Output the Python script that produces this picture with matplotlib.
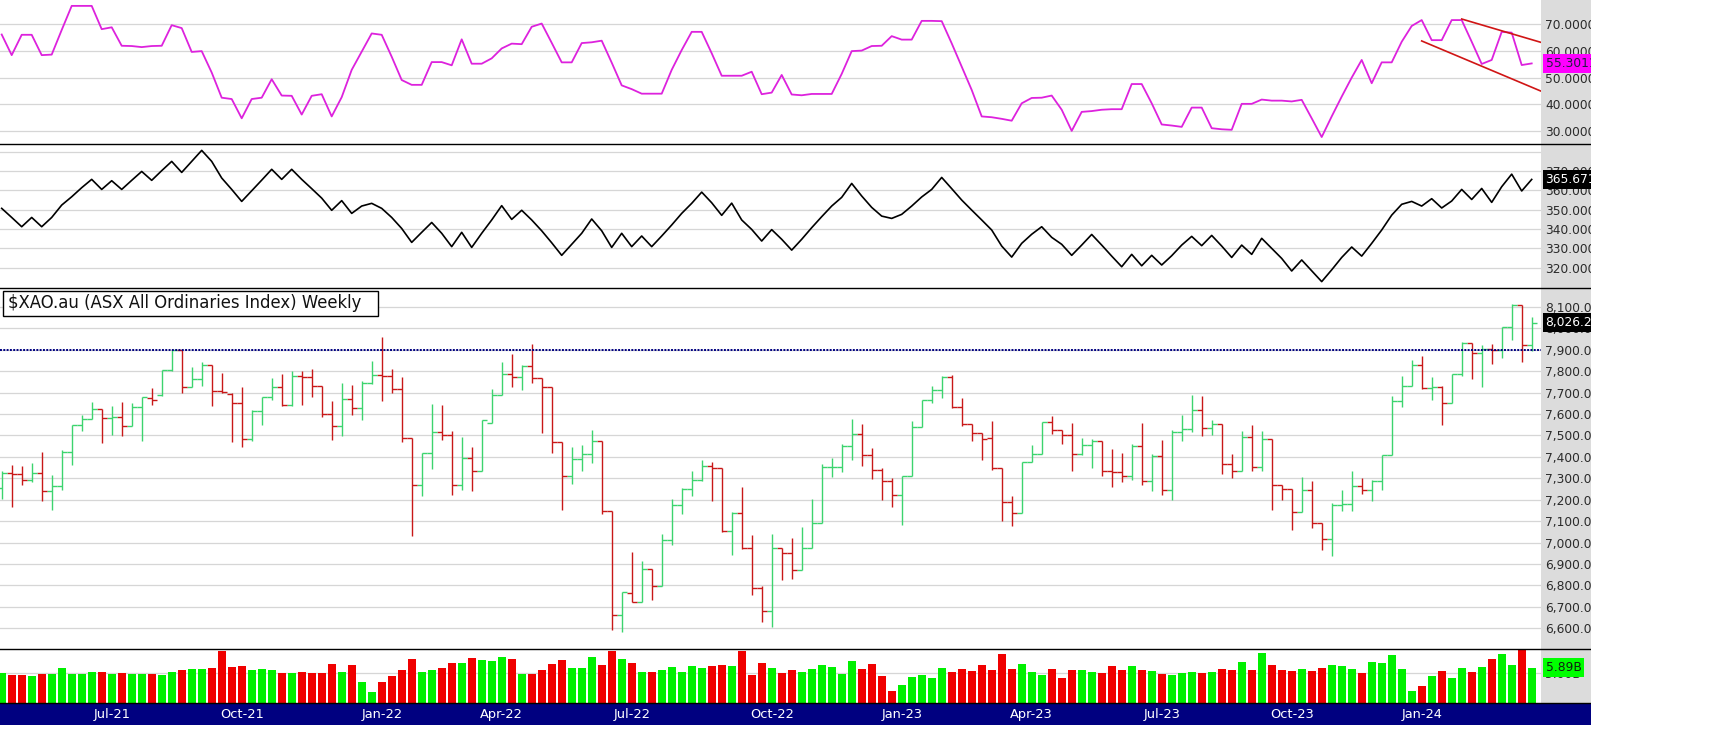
import matplotlib
matplotlib.use("Agg")
import matplotlib.pyplot as plt
import matplotlib.transforms as mtransforms
from matplotlib.patches import Rectangle
from matplotlib.lines import Line2D
import numpy as np

plt.rcParams['font.family'] = ['DejaVu Sans']

# ---------------- data ----------------
title_text = "$XAO.au (ASX All Ordinaries Index) Weekly"

date_tick_pos = [11, 24, 38, 50, 63, 77, 90, 103, 116, 129, 142]
date_tick_labels = ["Jul-21", "Oct-21", "Jan-22", "Apr-22", "Jul-22", "Oct-22",
                    "Jan-23", "Apr-23", "Jul-23", "Oct-23", "Jan-24"]

opens = [7255, 7325, 7320, 7290, 7325, 7242, 7262, 7423, 7547, 7577,
         7623, 7581, 7584, 7545, 7633, 7674, 7687, 7804, 7900, 7724,
         7765, 7827, 7706, 7693, 7651, 7485, 7615, 7678, 7724, 7640,
         7777, 7772, 7729, 7600, 7542, 7670, 7628, 7743, 7782, 7776,
         7716, 7488, 7267, 7418, 7514, 7502, 7270, 7393, 7335, 7558,
         7688, 7786, 7771, 7822, 7768, 7724, 7468, 7309, 7390, 7413,
         7472, 7146, 6660, 6765, 6721, 6877, 6796, 7010, 7174, 7250,
         7290, 7356, 7348, 7056, 7136, 6975, 6788, 6679, 6975, 6950,
         6870, 6975, 7090, 7353, 7354, 7449, 7507, 7409, 7337, 7287,
         7220, 7309, 7539, 7664, 7710, 7774, 7631, 7553, 7510, 7489,
         7346, 7188, 7136, 7374, 7413, 7563, 7524, 7502, 7413, 7455,
         7475, 7332, 7330, 7312, 7449, 7286, 7402, 7245, 7514, 7528,
         7617, 7533, 7552, 7367, 7332, 7493, 7354, 7482, 7267, 7250,
         7141, 7245, 7090, 7017, 7175, 7178, 7262, 7245, 7289, 7407,
         7660, 7729, 7828, 7720, 7727, 7651, 7785, 7931, 7883, 7905,
         7898, 8004, 8110, 7923]

highs = [7335, 7360, 7356, 7371, 7423, 7314, 7430, 7547, 7597, 7654,
         7623, 7636, 7656, 7651, 7679, 7721, 7805, 7900, 7900, 7818,
         7842, 7830, 7790, 7696, 7724, 7617, 7681, 7768, 7786, 7799,
         7802, 7810, 7729, 7659, 7743, 7734, 7755, 7849, 7958, 7810,
         7771, 7488, 7418, 7647, 7640, 7519, 7493, 7444, 7570, 7716,
         7842, 7880, 7827, 7926, 7768, 7724, 7468, 7444, 7454, 7524,
         7472, 7146, 6769, 6956, 6912, 6877, 7040, 7203, 7255, 7335,
         7385, 7374, 7348, 7141, 7259, 7034, 6799, 7040, 6975, 7021,
         7073, 7203, 7367, 7395, 7461, 7577, 7553, 7441, 7348, 7301,
         7312, 7566, 7665, 7729, 7776, 7780, 7674, 7553, 7510, 7567,
         7346, 7217, 7376, 7457, 7563, 7591, 7524, 7558, 7486, 7483,
         7475, 7437, 7418, 7461, 7558, 7413, 7480, 7524, 7597, 7687,
         7682, 7573, 7552, 7413, 7522, 7549, 7519, 7482, 7270, 7250,
         7304, 7289, 7090, 7185, 7245, 7332, 7301, 7293, 7410, 7682,
         7776, 7853, 7869, 7772, 7732, 7786, 7934, 7931, 7923, 7928,
         8004, 8113, 8110, 8051]

lows = [7205, 7164, 7267, 7281, 7192, 7153, 7244, 7363, 7519, 7577,
        7465, 7503, 7499, 7542, 7475, 7640, 7685, 7802, 7699, 7724,
        7732, 7636, 7698, 7471, 7444, 7472, 7547, 7664, 7636, 7639,
        7643, 7678, 7584, 7480, 7496, 7594, 7570, 7740, 7659, 7696,
        7468, 7029, 7216, 7345, 7477, 7223, 7247, 7242, 7335, 7558,
        7687, 7727, 7713, 7744, 7511, 7418, 7153, 7273, 7335, 7373,
        7135, 6594, 6581, 6721, 6721, 6734, 6796, 6990, 7133, 7219,
        7289, 7195, 7048, 6944, 6972, 6754, 6628, 6606, 6827, 6832,
        6870, 6975, 7090, 7307, 7328, 7387, 7359, 7298, 7197, 7167,
        7084, 7309, 7539, 7651, 7673, 7628, 7542, 7472, 7387, 7337,
        7099, 7079, 7136, 7374, 7413, 7508, 7461, 7335, 7410, 7348,
        7309, 7258, 7281, 7290, 7270, 7239, 7220, 7200, 7472, 7514,
        7496, 7503, 7321, 7301, 7332, 7335, 7332, 7153, 7197, 7060,
        7141, 7068, 6964, 6936, 7149, 7146, 7228, 7192, 7247, 7407,
        7631, 7729, 7716, 7667, 7550, 7651, 7776, 7765, 7727, 7833,
        7861, 7947, 7844, 7895]

closes = [7325, 7320, 7290, 7325, 7242, 7262, 7423, 7547, 7577, 7623,
          7581, 7584, 7545, 7633, 7678, 7664, 7804, 7900, 7724, 7765,
          7827, 7706, 7701, 7651, 7485, 7615, 7678, 7724, 7640, 7777,
          7772, 7729, 7600, 7542, 7670, 7628, 7743, 7782, 7777, 7716,
          7488, 7267, 7418, 7514, 7502, 7270, 7393, 7335, 7570, 7688,
          7786, 7771, 7822, 7768, 7724, 7468, 7309, 7390, 7413, 7472,
          7146, 6660, 6769, 6721, 6877, 6796, 7010, 7174, 7250, 7290,
          7356, 7348, 7056, 7136, 6975, 6788, 6679, 6975, 6950, 6870,
          6975, 7090, 7353, 7354, 7449, 7507, 7409, 7337, 7287, 7220,
          7309, 7539, 7664, 7710, 7774, 7631, 7553, 7510, 7485, 7346,
          7188, 7136, 7374, 7413, 7563, 7524, 7502, 7413, 7455, 7475,
          7332, 7330, 7312, 7449, 7286, 7402, 7245, 7514, 7528, 7617,
          7533, 7552, 7367, 7332, 7493, 7354, 7482, 7267, 7250, 7141,
          7245, 7090, 7017, 7175, 7178, 7262, 7245, 7289, 7407, 7660,
          7729, 7828, 7720, 7727, 7651, 7785, 7931, 7883, 7905, 7898,
          8004, 8110, 7923, 8026.2]

volumes_b = [4.93, 4.59, 4.59, 4.42, 4.76, 4.76, 5.77, 4.76, 4.76, 5.10,
             5.21, 4.76, 4.93, 4.76, 4.76, 4.76, 4.59, 5.10, 5.43, 5.60,
             5.60, 5.77, 8.62, 5.94, 6.10, 5.43, 5.60, 5.43, 4.93, 4.93,
             5.21, 4.93, 4.93, 6.44, 5.10, 6.27, 3.42, 1.90, 3.42, 4.42,
             5.43, 7.28, 5.21, 5.43, 5.77, 6.72, 6.72, 7.45, 7.11, 6.94,
             7.62, 7.28, 4.76, 4.76, 5.43, 6.44, 7.11, 5.77, 5.77, 7.62,
             6.27, 8.62, 7.28, 6.61, 5.10, 5.21, 5.43, 5.94, 5.21, 6.10,
             5.77, 6.10, 6.27, 6.10, 8.62, 4.59, 6.61, 5.77, 4.93, 5.43,
             5.21, 5.60, 6.27, 5.94, 4.76, 6.94, 5.60, 6.44, 4.42, 2.02,
             3.08, 4.26, 4.59, 4.09, 5.77, 5.10, 5.60, 5.26, 6.27, 5.43,
             8.12, 5.60, 6.44, 5.10, 4.59, 5.60, 4.09, 5.43, 5.43, 5.10,
             4.93, 6.10, 5.43, 6.10, 5.43, 5.26, 4.76, 4.59, 4.93, 5.10,
             4.93, 5.10, 5.60, 5.43, 6.78, 5.43, 8.29, 6.27, 5.43, 5.26,
             5.60, 5.26, 5.77, 6.27, 6.10, 5.60, 4.93, 6.78, 6.61, 7.95,
             5.60, 2.07, 2.91, 4.42, 5.26, 4.09, 5.77, 5.10, 5.94, 7.28,
             8.12, 6.27, 8.79, 5.89]

rsi = [66.1, 58.4, 66.0, 66.0, 58.4, 58.6, 67.8, 76.8, 76.8, 76.8,
       68.1, 68.8, 61.9, 61.8, 61.4, 61.8, 61.9, 69.6, 68.5, 59.6,
       59.9, 51.9, 42.5, 42.0, 34.8, 42.0, 42.5, 49.4, 43.3, 43.2,
       36.2, 43.2, 43.8, 35.5, 42.7, 52.9, 59.7, 66.5, 66.0, 57.8,
       49.1, 47.3, 47.3, 55.8, 55.8, 54.6, 64.3, 55.2, 55.2, 57.2,
       60.9, 62.7, 62.5, 69.0, 70.2, 63.0, 55.7, 55.7, 62.9, 63.2,
       63.8, 55.6, 47.1, 45.7, 44.0, 44.0, 44.0, 52.9, 60.3, 67.1,
       67.1, 59.1, 50.7, 50.7, 50.7, 52.2, 43.8, 44.4, 51.0, 43.7,
       43.4, 43.9, 43.9, 43.9, 51.4, 59.9, 60.1, 61.8, 61.9, 65.5,
       64.2, 64.2, 71.2, 71.2, 71.1, 62.8, 54.1, 45.4, 35.5, 35.2,
       34.6, 33.9, 40.4, 42.4, 42.5, 43.3, 38.0, 30.1, 37.2, 37.5,
       38.0, 38.2, 38.2, 47.6, 47.6, 40.4, 32.5, 32.1, 31.6, 38.8,
       38.8, 31.1, 30.7, 30.5, 40.2, 40.2, 41.8, 41.4, 41.4, 41.1,
       41.7, 34.8, 27.8, 35.5, 42.9, 50.0, 56.6, 47.9, 55.7, 55.7,
       63.4, 69.3, 71.5, 64.0, 64.0, 71.5, 71.5, 63.4, 55.1, 56.6,
       67.1, 66.8, 54.7, 55.3011]

osc = [350.7, 346.0, 341.2, 346.0, 341.2, 346.0, 352.4, 356.7, 361.4, 365.7,
       360.5, 365.0, 360.5, 365.2, 369.8, 365.2, 370.2, 375.0, 369.3, 375.0,
       380.7, 375.0, 366.4, 360.5, 354.3, 359.8, 365.3, 370.9, 365.7, 370.9,
       365.7, 360.9, 356.0, 349.7, 354.7, 348.1, 351.9, 353.3, 350.7, 346.0,
       340.3, 333.1, 338.3, 343.4, 337.8, 330.9, 338.3, 330.5, 337.8, 344.7,
       352.1, 345.0, 349.7, 344.7, 339.1, 332.9, 326.4, 332.1, 337.8, 345.2,
       339.1, 330.5, 337.8, 330.9, 336.4, 330.9, 336.4, 342.1, 348.1, 353.3,
       359.1, 353.6, 347.1, 353.4, 344.7, 339.8, 333.8, 339.7, 334.7, 329.1,
       334.7, 340.7, 346.4, 351.9, 356.4, 363.6, 357.1, 351.2, 346.7, 345.5,
       347.6, 351.9, 356.6, 360.5, 366.7, 360.9, 355.0, 349.8, 344.7, 339.5,
       331.2, 325.5, 332.6, 337.3, 341.2, 335.7, 332.1, 326.4, 331.7, 337.2,
       331.7, 326.0, 320.5, 326.9, 321.0, 326.4, 321.4, 326.2, 331.7, 336.2,
       331.4, 336.7, 331.2, 325.3, 331.7, 326.9, 335.2, 330.0, 324.8, 318.3,
       324.0, 318.4, 312.8, 318.9, 325.3, 330.7, 326.0, 332.6, 339.5, 347.2,
       352.8, 354.3, 351.9, 355.7, 350.9, 354.5, 360.5, 355.3, 361.0, 353.8,
       361.9, 368.4, 359.7, 365.671]

trend_upper_x = [146.0, 153.9]
trend_upper_y = [71.9, 63.2]
trend_lower_x = [142.0, 153.9]
trend_lower_y = [63.7, 45.0]

resistance_level = 7900

rsi_ticks = [30, 40, 50, 60, 70]
osc_grid = [320, 330, 340, 350, 360, 370, 380]
osc_ticks = [320, 330, 340, 350, 360, 370]
price_ticks = list(range(6600, 8101, 100))
vol_ticks = [5.0]

# ---------------- styling / layout ----------------
W, H = 1735, 753
PLOT_R = 1541
AXIS_R = 1591
fig = plt.figure(figsize=(W / 100, H / 100), dpi=100)
fig.patch.set_facecolor('white')

GREEN_BAR = '#3cd46e'
RED_BAR = '#c81818'
VOL_GREEN = '#00f000'
VOL_RED = '#f00000'
GRID = '#d6d6d6'
TICK_COLOR = '#2a2a2a'
LABEL_FS = 8.8

def add_panel(top, bottom):
    ax = fig.add_axes([0, 1 - bottom / H, PLOT_R / W, (bottom - top) / H])
    ax.set_facecolor('white')
    for s in ax.spines.values():
        s.set_visible(False)
    ax.set_xlim(-0.17, 153.93)
    ax.set_xticks([])
    ax.yaxis.tick_right()
    ax.tick_params(axis='y', length=0, pad=3.0, labelsize=LABEL_FS, labelcolor=TICK_COLOR)
    return ax

ax_rsi = add_panel(0, 144)
ax_osc = add_panel(144, 288)
ax_px = add_panel(288, 649)
ax_vol = add_panel(649, 703)

n = len(closes)
x = np.arange(n)

# gray axis strip
fig.add_artist(Rectangle((PLOT_R / W, 1 - 703 / H), (AXIS_R - PLOT_R) / W, 703 / H,
                         transform=fig.transFigure, facecolor='#dcdcdc', edgecolor='none', zorder=-1))

# ---- RSI panel ----
ax_rsi.set_ylim(25.2, 79.0)
for v in rsi_ticks:
    ax_rsi.axhline(v, color=GRID, lw=0.9, zorder=0)
ax_rsi.set_yticks(rsi_ticks)
ax_rsi.set_yticklabels([f"{v:.4f}" for v in rsi_ticks])
ax_rsi.plot(x, rsi, color='#dd22dd', lw=1.3, zorder=3)
ax_rsi.plot(trend_upper_x, trend_upper_y, color='#d01515', lw=1.2, zorder=4)
ax_rsi.plot(trend_lower_x, trend_lower_y, color='#d01515', lw=1.2, zorder=4)

# ---- oscillator panel ----
ax_osc.set_ylim(309.5, 384.0)
for v in osc_grid:
    ax_osc.axhline(v, color=GRID, lw=0.9, zorder=0)
ax_osc.set_yticks(osc_ticks)
ax_osc.set_yticklabels([f"{v:.4f}" for v in osc_ticks])
ax_osc.plot(x, osc, color='black', lw=1.2, zorder=3)

# ---- price panel ----
ax_px.set_ylim(6503, 8188)
for v in price_ticks:
    ax_px.axhline(v, color=GRID, lw=0.9, zorder=0)
ax_px.set_yticks(price_ticks)
ax_px.set_yticklabels([f"{v:,.2f}" for v in price_ticks])
prev = [opens[0]] + closes[:-1]
bar_colors = [GREEN_BAR if c > p else RED_BAR for c, p in zip(closes, prev)]
ax_px.vlines(x, lows, highs, colors=bar_colors, lw=1.0, zorder=3)
ax_px.hlines(opens, x - 0.5, x, colors=bar_colors, lw=1.0, zorder=3)
ax_px.hlines(closes, x, x + 0.5, colors=bar_colors, lw=1.0, zorder=3)
ax_px.axhline(resistance_level, color='#000080', lw=1.4, linestyle=(0, (1, 0.7)), zorder=4)

# ---- volume panel ----
ax_vol.set_ylim(0, 9.0)
for v in vol_ticks:
    ax_vol.axhline(v, color=GRID, lw=0.9, zorder=0)
ax_vol.set_yticks(vol_ticks)
ax_vol.set_yticklabels([f"{v:.2f}B" for v in vol_ticks])
vol_colors = [VOL_GREEN if c > p else VOL_RED for c, p in zip(closes, prev)]
ax_vol.bar(x, volumes_b, width=0.82, color=vol_colors, zorder=3)

# ---- value labels on the right ----
def value_label(ax, y, text, fc, tc):
    trans = mtransforms.blended_transform_factory(ax.transAxes, ax.transData)
    trans = mtransforms.offset_copy(trans, fig=fig, x=4.5, y=0, units='dots')
    ax.text(1.0, y, text, transform=trans, ha='left', va='center', fontsize=LABEL_FS,
            color=tc, clip_on=False, zorder=10,
            bbox=dict(boxstyle='square,pad=0.22', fc=fc, ec='none'))

value_label(ax_rsi, rsi[-1], f"{rsi[-1]:.4f}", '#ff00ff', '#202040')
value_label(ax_osc, osc[-1], f"{osc[-1]:.3f}", 'black', 'white')
value_label(ax_px, closes[-1], f"{closes[-1]:,.2f}", 'black', 'white')
value_label(ax_vol, volumes_b[-1], f"{volumes_b[-1]:.2f}B", '#00ff00', '#102010')

# ---- title box ----
fig.add_artist(Rectangle((2.7 / W, 1 - 315.5 / H), 375 / W, 25 / H, transform=fig.transFigure,
                         facecolor='white', edgecolor='black', lw=1.0, zorder=6))
fig.text(7.5 / W, 1 - 303.5 / H, title_text, ha='left', va='center', fontsize=11.9,
         color='#111111', zorder=7)

# ---- separators ----
for yy in [144, 288, 649, 703]:
    fig.add_artist(Line2D([0, AXIS_R / W], [1 - yy / H, 1 - yy / H], transform=fig.transFigure,
                          color='black', lw=1.0, zorder=8))

# ---- date band ----
fig.add_artist(Rectangle((0, 1 - 725 / H), AXIS_R / W, 21.5 / H, transform=fig.transFigure,
                         facecolor='#000080', edgecolor='none', zorder=5))
for pos, lab in zip(date_tick_pos, date_tick_labels):
    fig.text((1.7 + 10 * pos) / W, 1 - 714.5 / H, lab, ha='center', va='center',
             fontsize=9.4, color='white', zorder=7)

# ---- mask beyond axis strip ----
fig.add_artist(Rectangle((AXIS_R / W, 0), 1 - AXIS_R / W, 1, transform=fig.transFigure,
                         facecolor='white', edgecolor='none', zorder=20))

fig.savefig('out.png', dpi=100)
